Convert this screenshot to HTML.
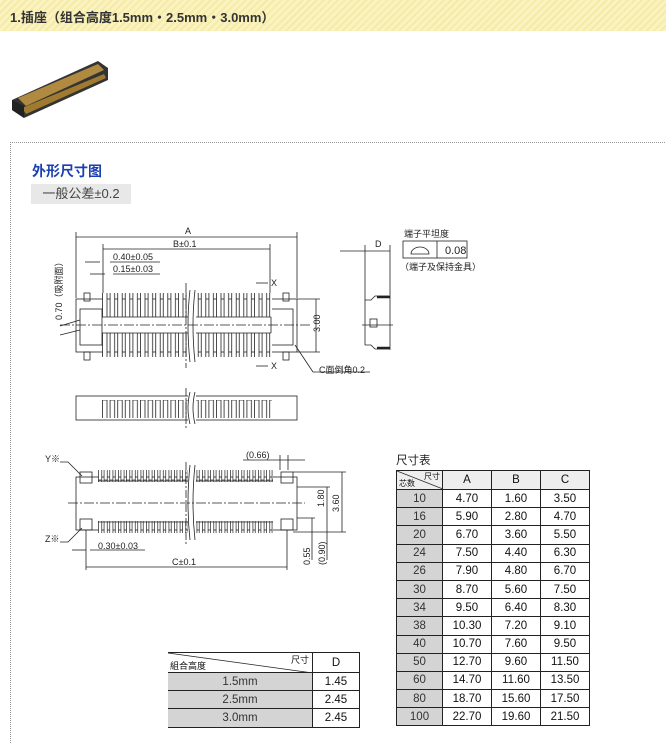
<!DOCTYPE html>
<html><head><meta charset="utf-8">
<style>
body{margin:0;width:666px;height:736px;background:#fff;font-family:"Liberation Sans","Noto Sans CJK SC",sans-serif;position:relative;overflow:hidden}
.hdr{position:absolute;left:0;top:0;width:666px;height:31px;background:repeating-linear-gradient(135deg,#faf3c0 0 3px,#f5eaa8 3px 5px);}
.hdr span{position:absolute;left:10px;top:7px;font-size:13px;font-weight:bold;color:#333}
.box{position:absolute;left:10px;top:142px;width:660px;height:600px;border-top:1px dotted #999;border-left:1px dotted #999}
.t1{position:absolute;left:32px;top:161px;font-size:14px;font-weight:bold;color:#1a3fb0}
.tol{position:absolute;left:31px;top:184px;width:100px;height:20px;background:#e8e8e8;font-size:13px;color:#444;text-align:center;line-height:20px}
table{position:absolute;border-collapse:collapse;font-size:11.5px;color:#111}
td{border:1px solid #222;text-align:center;padding:0;height:17.2px}
td.g{background:#d4d4d4;color:#333}
</style></head><body>
<div class="hdr"><span>1.插座（组合高度1.5mm・2.5mm・3.0mm）</span></div>
<svg style="position:absolute;left:8px;top:58px" width="104" height="64" viewBox="0 0 104 64">
<polygon points="4,42 90,3 100,10 100,22 16,60 4,52" fill="#333"/>
<polygon points="10,40 90,6 96,12 18,48" fill="#b08a40"/>
<polygon points="14,50 96,16 98,20 18,56" fill="#a07a30"/>
<polygon points="4,42 16,48 16,60 4,52" fill="#222"/>
</svg>
<div class="box"></div>
<div class="t1">外形尺寸图</div>
<div class="tol">一般公差±0.2</div>

<svg style="position:absolute;left:0;top:0" width="666" height="736" font-family="Liberation Sans, Noto Sans CJK SC, sans-serif" font-size="9">
<defs>
<pattern id="pt" x="102" y="0" width="7.6" height="40" patternUnits="userSpaceOnUse"><rect x="0.5" y="0" width="4.5" height="40" fill="#fff" stroke="#222" stroke-width="0.8"/></pattern>
<pattern id="ps" x="98" y="0" width="5.6" height="30" patternUnits="userSpaceOnUse"><rect x="0.5" y="0" width="3.2" height="30" fill="#fff" stroke="#222" stroke-width="0.7"/></pattern>
<pattern id="pc" x="102" y="0" width="7.6" height="40" patternUnits="userSpaceOnUse"><circle cx="5" cy="20" r="2.6" fill="none" stroke="#555" stroke-width="0.7" stroke-dasharray="1 1"/></pattern>
</defs>
<g stroke="#222" fill="none" stroke-width="0.8">
<line x1="76" y1="232" x2="76" y2="298"/><line x1="297" y1="232" x2="297" y2="298"/>
<line x1="76" y1="237" x2="297" y2="237"/>
<line x1="103" y1="244" x2="103" y2="293"/><line x1="270" y1="244" x2="270" y2="293"/>
<line x1="103" y1="249" x2="270" y2="249"/>
<line x1="85" y1="262" x2="100" y2="262"/><line x1="110" y1="262" x2="160" y2="262"/>
<line x1="90" y1="274" x2="105" y2="274"/><line x1="113" y1="274" x2="160" y2="274"/>
<line x1="256" y1="283" x2="268" y2="283"/><line x1="256" y1="366" x2="268" y2="366"/>
<rect x="76" y="299" width="221" height="53"/>
<rect x="80" y="309" width="22" height="36"/><rect x="271" y="309" width="22" height="36"/>
<rect x="84" y="293" width="6" height="8"/><rect x="84" y="352" width="6" height="8"/>
<rect x="283" y="293" width="6" height="8"/><rect x="283" y="352" width="6" height="8"/>
<rect x="102" y="293" width="170" height="24" fill="url(#pt)" stroke="none"/>
<rect x="102" y="333" width="170" height="24" fill="url(#pt)" stroke="none"/>
<rect x="102" y="283" width="170" height="10" fill="url(#pc)" stroke="none" transform="translate(0,0)"/>
<line x1="102" y1="317" x2="271" y2="317"/><line x1="102" y1="333" x2="271" y2="333"/>
<rect x="188" y="290" width="8" height="72" fill="#fff" stroke="none"/>
<path d="M190,290 q-4,35 0,72 M195,290 q-4,35 0,72"/>
<line x1="60" y1="325" x2="310" y2="325" stroke-dasharray="10 2 2 2"/>
<line x1="186" y1="283" x2="186" y2="368" stroke-dasharray="10 2 2 2"/>
<line x1="297" y1="299" x2="320" y2="299"/><line x1="297" y1="352" x2="320" y2="352"/>
<line x1="316" y1="299" x2="316" y2="352"/>
<line x1="295" y1="345" x2="313" y2="372"/><line x1="313" y1="372" x2="370" y2="372"/>
<line x1="60" y1="326" x2="80" y2="320"/><line x1="60" y1="335" x2="80" y2="330"/>
<rect x="76" y="396" width="221" height="24"/>
<rect x="102" y="400" width="170" height="18" fill="url(#pt)" stroke="none"/>
<rect x="188" y="392" width="8" height="32" fill="#fff" stroke="none"/>
<path d="M190,392 q-4,16 0,32 M195,392 q-4,16 0,32"/>
<line x1="186" y1="388" x2="186" y2="430" stroke-dasharray="8 2 2 2"/>
<line x1="340" y1="251" x2="390" y2="251"/>
<line x1="365" y1="245" x2="365" y2="345"/><line x1="390" y1="245" x2="390" y2="350"/>
<path d="M365,300 h6 l4,-4 h14 M365,345 h6 l4,4 h14"/>
<rect x="370" y="319" width="7" height="8"/>
<line x1="362" y1="325" x2="393" y2="325"/>
<line x1="377" y1="297" x2="390" y2="297" stroke-width="2.5"/><line x1="377" y1="348" x2="390" y2="348" stroke-width="2.5"/>
<rect x="403" y="241" width="64" height="17"/><line x1="437" y1="241" x2="437" y2="258"/>
<path d="M411,254 a9,7 0 0 1 18,0 z"/>
<rect x="76" y="477" width="221" height="53"/>
<rect x="80" y="472" width="12" height="11"/><rect x="80" y="519" width="12" height="11"/>
<rect x="281" y="472" width="12" height="11"/><rect x="281" y="519" width="12" height="11"/>
<rect x="98" y="470" width="175" height="12" fill="url(#ps)" stroke="none"/>
<rect x="98" y="521" width="175" height="12" fill="url(#ps)" stroke="none"/>
<line x1="98" y1="481" x2="273" y2="481"/><line x1="98" y1="522" x2="273" y2="522"/>
<rect x="188" y="465" width="8" height="75" fill="#fff" stroke="none"/>
<path d="M190,465 q-4,38 0,75 M195,465 q-4,38 0,75"/>
<line x1="68" y1="503" x2="305" y2="503" stroke-dasharray="10 2 2 2"/>
<line x1="186" y1="462" x2="186" y2="545" stroke-dasharray="8 2 2 2"/>
<path d="M60,462 h8 l14,14 M60,542 h8 l14,-14"/>
<line x1="280" y1="455" x2="280" y2="470"/><line x1="288" y1="455" x2="288" y2="470"/><line x1="243" y1="460" x2="305" y2="460"/>
<line x1="293" y1="472" x2="346" y2="472"/><line x1="293" y1="532" x2="346" y2="532"/>
<line x1="342" y1="472" x2="342" y2="532"/>
<line x1="297" y1="487" x2="330" y2="487"/><line x1="327" y1="487" x2="327" y2="560"/>
<line x1="297" y1="518" x2="315" y2="518"/><line x1="312" y1="518" x2="312" y2="560"/>
<line x1="86" y1="530" x2="86" y2="570"/><line x1="287" y1="530" x2="287" y2="570"/>
<line x1="86" y1="567" x2="287" y2="567"/>
<line x1="72" y1="550" x2="86" y2="550"/><line x1="90" y1="550" x2="145" y2="550"/>
</g>
<g fill="#222">
<text x="185" y="234">A</text>
<text x="173" y="247">B±0.1</text>
<text x="113" y="260">0.40±0.05</text>
<text x="113" y="272">0.15±0.03</text>
<text x="271" y="286">X</text><text x="271" y="369">X</text>
<text x="319" y="373">C面倒角0.2</text>
<text transform="translate(320,332) rotate(-90)">3.00</text>
<text transform="translate(62,320) rotate(-90)">0.70（吸附面）</text>
<text x="375" y="247">D</text>
<text x="404" y="237">端子平坦度</text>
<text x="400" y="270">（端子及保持金具）</text>
<text x="445" y="254" font-size="11">0.08</text>
<text x="246" y="458">(0.66)</text>
<text x="45" y="462">Y※</text><text x="45" y="542">Z※</text>
<text x="98" y="549">0.30±0.03</text>
<text x="172" y="565">C±0.1</text>
<text transform="translate(339,512) rotate(-90)">3.60</text>
<text transform="translate(324,507) rotate(-90)">1.80</text>
<text transform="translate(310,565) rotate(-90)">0.55</text>
<text transform="translate(325,565) rotate(-90)">(0.90)</text>
<text x="396" y="464" font-size="11.5">尺寸表</text>
</g>
</svg>

<table style="left:396px;top:470px;width:194px">
<tr><td style="width:45px;height:18px;background:#eee;position:relative;font-size:8px"><svg style="position:absolute;left:0;top:0" width="46" height="18"><line x1="0" y1="0" x2="46" y2="18" stroke="#222" stroke-width="0.8"/></svg><span style="position:absolute;right:2px;top:0">尺寸</span><span style="position:absolute;left:2px;bottom:0">芯数</span></td><td style="background:#eee;width:48px">A</td><td style="background:#eee;width:48px">B</td><td style="background:#eee">C</td></tr>
<tr><td class="g">10</td><td>4.70</td><td>1.60</td><td>3.50</td></tr>
<tr><td class="g">16</td><td>5.90</td><td>2.80</td><td>4.70</td></tr>
<tr><td class="g">20</td><td>6.70</td><td>3.60</td><td>5.50</td></tr>
<tr><td class="g">24</td><td>7.50</td><td>4.40</td><td>6.30</td></tr>
<tr><td class="g">26</td><td>7.90</td><td>4.80</td><td>6.70</td></tr>
<tr><td class="g">30</td><td>8.70</td><td>5.60</td><td>7.50</td></tr>
<tr><td class="g">34</td><td>9.50</td><td>6.40</td><td>8.30</td></tr>
<tr><td class="g">38</td><td>10.30</td><td>7.20</td><td>9.10</td></tr>
<tr><td class="g">40</td><td>10.70</td><td>7.60</td><td>9.50</td></tr>
<tr><td class="g">50</td><td>12.70</td><td>9.60</td><td>11.50</td></tr>
<tr><td class="g">60</td><td>14.70</td><td>11.60</td><td>13.50</td></tr>
<tr><td class="g">80</td><td>18.70</td><td>15.60</td><td>17.50</td></tr>
<tr><td class="g">100</td><td>22.70</td><td>19.60</td><td>21.50</td></tr>
</table>

<table style="left:168px;top:652px;width:192px;border-left:none">
<tr><td style="width:144px;height:19px;position:relative;font-size:9px;border-left:none"><svg style="position:absolute;left:0;top:0" width="145" height="20"><line x1="0" y1="0" x2="145" y2="20" stroke="#222" stroke-width="0.8"/></svg><span style="position:absolute;right:3px;top:0">尺寸</span><span style="position:absolute;left:2px;bottom:0">組合高度</span></td><td>D</td></tr>
<tr><td class="g" style="border-left:none">1.5mm</td><td>1.45</td></tr>
<tr><td class="g" style="border-left:none">2.5mm</td><td>2.45</td></tr>
<tr><td class="g" style="border-left:none">3.0mm</td><td>2.45</td></tr>
</table>
</body></html>
